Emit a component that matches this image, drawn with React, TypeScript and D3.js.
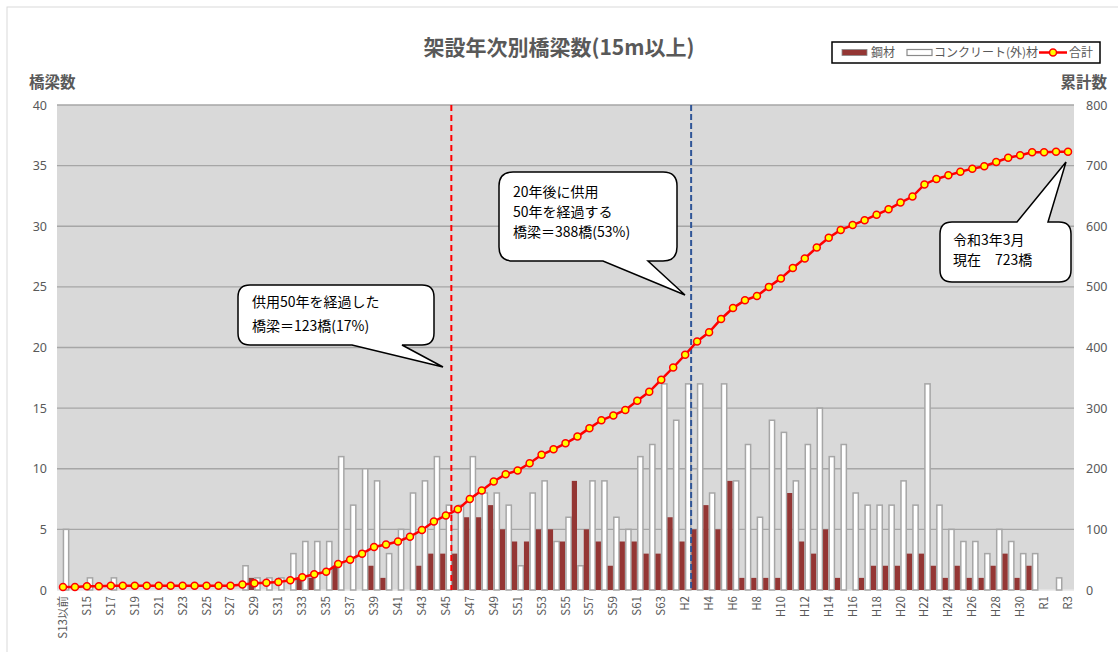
import React from "react";
import * as d3 from "d3";

const categories: string[] = [
  "S13以前", "S14", "S15", "S16", "S17", "S18", "S19", "S20", "S21", "S22",
  "S23", "S24", "S25", "S26", "S27", "S28", "S29", "S30", "S31", "S32",
  "S33", "S34", "S35", "S36", "S37", "S38", "S39", "S40", "S41", "S42",
  "S43", "S44", "S45", "S46", "S47", "S48", "S49", "S50", "S51", "S52",
  "S53", "S54", "S55", "S56", "S57", "S58", "S59", "S60", "S61", "S62",
  "S63", "H1", "H2", "H3", "H4", "H5", "H6", "H7", "H8", "H9",
  "H10", "H11", "H12", "H13", "H14", "H15", "H16", "H17", "H18", "H19",
  "H20", "H21", "H22", "H23", "H24", "H25", "H26", "H27", "H28", "H29",
  "H30", "H31", "R1", "R2", "R3",
];

const steel: number[] = [
  0, 0, 0, 0, 0, 0, 0, 0, 0, 0,
  0, 0, 0, 0, 0, 0, 1, 0, 0, 0,
  1, 1, 0, 2, 0, 0, 2, 1, 0, 0,
  2, 3, 3, 3, 6, 6, 7, 5, 4, 4,
  5, 5, 4, 9, 5, 4, 2, 4, 4, 3,
  3, 6, 4, 5, 7, 5, 9, 1, 1, 1,
  1, 8, 4, 3, 5, 1, 0, 1, 2, 2,
  2, 3, 3, 2, 1, 2, 1, 1, 2, 3,
  1, 2, 0, 0, 0,
];

const concrete: number[] = [
  5, 0, 1, 0, 1, 0, 0, 0, 0, 0,
  0, 0, 0, 0, 0, 2, 1, 1, 1, 3,
  4, 4, 4, 11, 7, 10, 9, 3, 5, 8,
  9, 11, 7, 7, 11, 8, 8, 7, 2, 8,
  9, 4, 6, 2, 9, 9, 6, 5, 11, 12,
  17, 14, 17, 17, 8, 17, 9, 12, 6, 14,
  13, 9, 12, 15, 11, 12, 8, 7, 7, 7,
  9, 7, 17, 7, 5, 4, 4, 3, 5, 4,
  3, 3, 0, 1, 0,
];

const leftTicks: number[] = [0, 5, 10, 15, 20, 25, 30, 35, 40];
const rightTicks: number[] = [0, 100, 200, 300, 400, 500, 600, 700, 800];

const TITLE = "架設年次別橋梁数(15m以上)";
const LEFT_TITLE = "橋梁数";
const RIGHT_TITLE = "累計数";
const legendLabels = ["鋼材", "コンクリート(外)材", "合計"];
const callout1 = ["供用50年を経過した", "橋梁＝123橋(17%)"];
const callout2 = ["20年後に供用", "50年を経過する", "橋梁＝388橋(53%)"];
const callout3 = ["令和3年3月", "現在　723橋"];
const redLineAfter = "S45";
const blueLineAfter = "H2";

const JP = "'Noto Sans CJK JP', 'Noto Sans', sans-serif";
const NUM = "'Noto Sans', 'Noto Sans CJK JP', sans-serif";

export default function App() {
  const W = 1118, H = 652;
  const pl = 57, pr = 1074, pt = 105, pb = 590;

  const x = d3.scaleBand<string>().domain(categories).range([pl, pr]).padding(0);
  const bw = x.bandwidth();
  const inner = d3.scaleBand<string>().domain(["s", "c"]).range([0, bw]).paddingInner(0.15).paddingOuter(0.05);
  const yL = d3.scaleLinear().domain([0, 40]).range([pb, pt]);
  const yR = d3.scaleLinear().domain([0, 800]).range([pb, pt]);

  const cum: number[] = [];
  categories.forEach((_, i) => {
    cum.push((i > 0 ? cum[i - 1] : 0) + steel[i] + concrete[i]);
  });

  const cx = (c: string) => (x(c) as number) + bw / 2;
  const line = d3.line<number>().x((_, i) => cx(categories[i])).y((d) => yR(d));

  const redX = (x(redLineAfter) as number) + bw - 0.5;
  const blueX = (x(blueLineAfter) as number) + bw;

  const bubble = (x0: number, y0: number, x1: number, y1: number, r: number,
    side: "bottom" | "top", b0: number, b1: number, tx: number, ty: number) => {
    const p = d3.path();
    p.moveTo(x0 + r, y0);
    if (side === "top") {
      p.lineTo(b0, y0);
      p.lineTo(tx, ty);
      p.lineTo(b1, y0);
    }
    p.lineTo(x1 - r, y0);
    p.quadraticCurveTo(x1, y0, x1, y0 + r);
    p.lineTo(x1, y1 - r);
    p.quadraticCurveTo(x1, y1, x1 - r, y1);
    if (side === "bottom") {
      p.lineTo(b1, y1);
      p.lineTo(tx, ty);
      p.lineTo(b0, y1);
    }
    p.lineTo(x0 + r, y1);
    p.quadraticCurveTo(x0, y1, x0, y1 - r);
    p.lineTo(x0, y0 + r);
    p.quadraticCurveTo(x0, y0, x0 + r, y0);
    p.closePath();
    return p.toString();
  };

  const steelColor = "#943634";
  const barStroke = "#a6a6a6";
  const textGray = "#595959";

  return (
    <svg width={W} height={H} style={{ position: "absolute", left: 0, top: 0, background: "#fff" }}>
      <rect x={7} y={7} width={1130} height={660} fill="#fff" stroke="#d9d9d9" strokeWidth={1} />
      <text x={559} y={55} textAnchor="middle" fontFamily={JP} fontWeight="bold" fontSize={21} fill={textGray}>{TITLE}</text>
      <text x={29} y={88} fontFamily={JP} fontWeight="bold" fontSize={15.5} fill={textGray}>{LEFT_TITLE}</text>
      <text x={1107} y={88} textAnchor="end" fontFamily={JP} fontWeight="bold" fontSize={15.5} fill={textGray}>{RIGHT_TITLE}</text>

      {/* legend */}
      <g>
        <rect x={832} y={42} width={268} height={21} fill="#fff" stroke="#000" strokeWidth={1.5} />
        <rect x={842} y={49.5} width={25} height={6} fill={steelColor} stroke="#8a8a8a" strokeWidth={0.8} />
        <text x={871} y={57} fontFamily={JP} fontSize={12} fill={textGray}>{legendLabels[0]}</text>
        <rect x={907} y={49.5} width={25} height={6} fill="#fff" stroke="#8a8a8a" strokeWidth={1.2} />
        <text x={934} y={57} fontFamily={JP} fontSize={12} fill={textGray}>{legendLabels[1]}</text>
        <line x1={1039} x2={1067} y1={52.5} y2={52.5} stroke="#ff0000" strokeWidth={2.5} />
        <circle cx={1053} cy={52.5} r={3.5} fill="#ffff00" stroke="#ff0000" strokeWidth={1.5} />
        <text x={1069} y={57} fontFamily={JP} fontSize={12} fill={textGray}>{legendLabels[2]}</text>
      </g>

      {/* plot area */}
      <rect x={pl} y={pt} width={pr - pl} height={pb - pt} fill="#d9d9d9" />
      {leftTicks.map((t) => (
        <g key={"g" + t}>
          {t > 0 && <line x1={pl} x2={pr} y1={yL(t)} y2={yL(t)} stroke="#a6a6a6" strokeWidth={1.3} />}
          <text x={47} y={yL(t) + 4.5} textAnchor="end" fontFamily={NUM} fontSize={12.5} fill={textGray}>{t}</text>
        </g>
      ))}
      <line x1={pl} x2={pr} y1={pb} y2={pb} stroke="#e6e6e6" strokeWidth={1.3} />
      {rightTicks.map((t) => (
        <text key={"r" + t} x={1086} y={yR(t) + 4.5} fontFamily={NUM} fontSize={12.5} fill={textGray}>{t}</text>
      ))}

      {/* bars */}
      {categories.map((c, i) => (
        <g key={"b" + c}>
          {steel[i] > 0 && (
            <rect x={(x(c) as number) + (inner("s") as number)} y={yL(steel[i])} width={inner.bandwidth()} height={pb - yL(steel[i])} fill={steelColor} />
          )}
          {concrete[i] > 0 && (
            <rect x={(x(c) as number) + (inner("c") as number)} y={yL(concrete[i])} width={inner.bandwidth()} height={pb - yL(concrete[i])} fill="#ffffff" stroke={barStroke} strokeWidth={1.5} />
          )}
        </g>
      ))}

      {/* x labels */}
      {categories.map((c, i) => i % 2 === 0 ? (
        <text key={"x" + c} transform={`translate(${cx(c) + 4},${596}) rotate(-90)`} textAnchor="end" fontFamily={JP} fontSize={11.5} fill={textGray}>{c}</text>
      ) : null)}

      {/* vertical dashed lines */}
      <line x1={redX} x2={redX} y1={pt} y2={pb} stroke="#ff0000" strokeWidth={2} strokeDasharray="6,4" />
      <line x1={blueX} x2={blueX} y1={pt} y2={pb} stroke="#2f5597" strokeWidth={2} strokeDasharray="6,3" />

      {/* cumulative line */}
      <path d={line(cum) as string} fill="none" stroke="#ff0000" strokeWidth={2.5} />
      {cum.map((v, i) => (
        <circle key={"m" + i} cx={cx(categories[i])} cy={yR(v)} r={3.5} fill="#ffff00" stroke="#ff0000" strokeWidth={1.5} />
      ))}

      {/* callouts */}
      <path d={bubble(238, 285, 434, 345, 12, "bottom", 352, 402, 443, 367)} fill="#fff" stroke="#000" strokeWidth={1.5} />
      {callout1.map((t, k) => (
        <text key={"c1" + k} x={252} y={307 + k * 24} fontFamily={JP} fontSize={14} fill="#000">{t}</text>
      ))}
      <path d={bubble(499, 172, 677, 261, 14, "bottom", 603, 648, 685, 295)} fill="#fff" stroke="#000" strokeWidth={1.5} />
      {callout2.map((t, k) => (
        <text key={"c2" + k} x={513} y={197 + k * 20} fontFamily={JP} fontSize={14} fill="#000">{t}</text>
      ))}
      <path d={bubble(940, 222, 1071, 282, 12, "top", 1017, 1048, 1066, 162)} fill="#fff" stroke="#000" strokeWidth={1.5} />
      {callout3.map((t, k) => (
        <text key={"c3" + k} x={953} y={245 + k * 20} fontFamily={JP} fontSize={14} fill="#000">{t}</text>
      ))}
    </svg>
  );
}
